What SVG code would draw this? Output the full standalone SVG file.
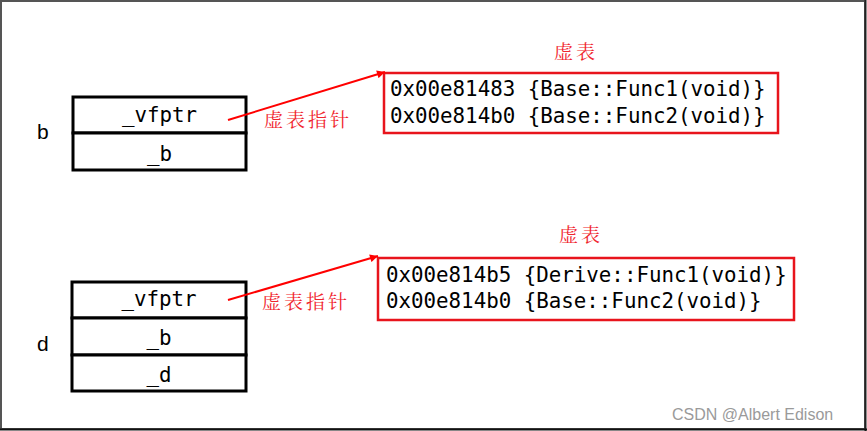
<svg xmlns="http://www.w3.org/2000/svg" width="867" height="431" viewBox="0 0 867 431">
<defs>
<style>
.bg{fill:#fff}
.cell{fill:#fff;stroke:#000;stroke-width:3}
.mono{font-family:"DejaVu Sans Mono","Liberation Mono",monospace;font-size:20.8px;fill:#000}
.var{font-family:"Liberation Sans",Arial,sans-serif;font-size:21px;fill:#000}
.vt{fill:#fff;stroke:#e8141c;stroke-width:2.5}
.cn{font-family:"Noto Serif CJK SC","Noto Sans CJK SC",serif;font-size:19px;fill:#f0252e;letter-spacing:3px}
.conn{stroke:#ff0000;stroke-width:2;fill:none}
.wm{font-family:"Liberation Sans",Arial,sans-serif;font-size:16px;fill:#9a9a9a}
</style>
<marker id="ah" viewBox="0 0 10 10" refX="10" refY="5" markerWidth="9" markerHeight="8" orient="auto" markerUnits="userSpaceOnUse">
<path d="M0,0 L10,5 L0,10 z" fill="#ff0000"/>
</marker>
</defs>
<rect class="bg" x="0" y="0" width="867" height="431"/>
<rect x="1" y="1" width="864" height="428" fill="none" stroke="#555" stroke-width="2"/>
<line x1="865.5" y1="0" x2="865.5" y2="431" stroke="#222" stroke-width="2"/>
<line x1="0" y1="429.5" x2="867" y2="429.5" stroke="#111" stroke-width="2"/>

<g id="obj-b">
<text class="var" x="37" y="139">b</text>
<rect class="cell" x="73" y="97" width="173" height="36"/>
<rect class="cell" x="73" y="133" width="173" height="37"/>
<text class="mono" x="159.5" y="122" text-anchor="middle">_vfptr</text>
<text class="mono" x="159.5" y="161" text-anchor="middle">_b</text>
</g>

<g id="vtable-b">
<text class="cn" x="554" y="59">虚表</text>
<rect class="vt" x="384" y="73" width="394" height="60"/>
<text class="mono" x="390" y="96">0x00e81483 {Base::Func1(void)}</text>
<text class="mono" x="390" y="123">0x00e814b0 {Base::Func2(void)}</text>
</g>

<g id="obj-d">
<text class="var" x="37" y="351">d</text>
<rect class="cell" x="72" y="282" width="174" height="36"/>
<rect class="cell" x="72" y="318" width="174" height="37"/>
<rect class="cell" x="72" y="355" width="174" height="36"/>
<text class="mono" x="159" y="306" text-anchor="middle">_vfptr</text>
<text class="mono" x="159" y="345" text-anchor="middle">_b</text>
<text class="mono" x="159" y="382" text-anchor="middle">_d</text>
</g>

<g id="vtable-d">
<text class="cn" x="559" y="242">虚表</text>
<rect class="vt" x="378" y="258" width="416" height="62"/>
<text class="mono" x="386" y="282">0x00e814b5 {Derive::Func1(void)}</text>
<text class="mono" x="386" y="308">0x00e814b0 {Base::Func2(void)}</text>
</g>

<g id="connectors">
<line class="conn" x1="228" y1="120" x2="385" y2="72" marker-end="url(#ah)"/>
<text class="cn" x="264" y="127">虚表指针</text>
<line class="conn" x1="228" y1="300" x2="378" y2="256" marker-end="url(#ah)"/>
<text class="cn" x="262" y="309">虚表指针</text>
</g>

<text class="wm" x="672" y="420">CSDN @Albert Edison</text>
</svg>
